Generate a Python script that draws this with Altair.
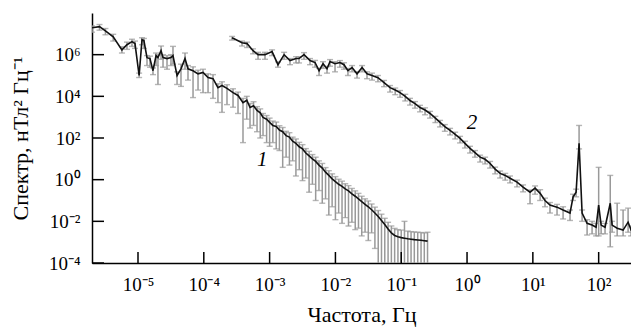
import altair as alt
import pandas as pd

# Curve 1: frequency (Hz), spectrum, lower and upper error
c1_freq = [2.0e-6, 2.6e-6, 3.2e-6, 4.2e-6, 5.7e-6, 6.8e-6, 8.1e-6, 9.0e-6, 1.04e-5, 1.15e-5,
           1.23e-5, 1.37e-5, 1.52e-5, 1.69e-5, 1.88e-5, 2.01e-5, 2.24e-5, 2.40e-5, 2.76e-5, 3.17e-5,
           3.40e-5, 3.92e-5, 4.50e-5, 5.18e-5, 5.75e-5, 6.86e-5, 8.17e-5, 9.73e-5, 1.16e-4, 1.38e-4,
           1.64e-4, 1.89e-4, 2.25e-4, 2.78e-4, 3.31e-4, 3.94e-4, 4.5e-4, 5.04e-4, 5.7e-4, 6.44e-4,
           7.2e-4, 7.94e-4, 9.0e-4,
           1.00e-3, 1.12e-3, 1.26e-3, 1.41e-3, 1.58e-3, 1.78e-3, 2.00e-3, 2.24e-3, 2.51e-3, 2.82e-3,
           3.16e-3, 3.55e-3, 3.98e-3, 4.47e-3, 5.01e-3, 5.62e-3, 6.31e-3, 7.08e-3, 7.94e-3, 8.91e-3,
           1.00e-2, 1.12e-2, 1.26e-2, 1.41e-2, 1.58e-2, 1.78e-2, 2.00e-2, 2.24e-2, 2.51e-2, 2.82e-2,
           3.16e-2, 3.55e-2, 3.98e-2, 4.47e-2, 5.01e-2, 5.62e-2, 6.31e-2, 7.08e-2, 7.94e-2, 8.91e-2,
           0.100, 0.112, 0.126, 0.141, 0.158, 0.178, 0.200, 0.224, 0.251]
c1_spec = [1.95e7, 2.2e7, 1.4e7, 7.2e6, 1.7e6, 3.0e6, 4.2e6, 3.4e6, 1.0e5, 5.2e6,
           4.7e6, 7.2e5, 6.5e5, 1.7e5, 9.0e5, 7.2e5, 1.55e6, 7.2e5, 6.5e5, 7.2e5,
           9.0e5, 1.0e5, 2.1e5, 6.5e5, 2.1e5, 1.7e5, 1.2e5, 1.4e5, 7.9e4, 7.1e4,
           2.6e4, 3.3e4, 2.4e4, 1.5e4, 1.1e4, 5.0e3, 6.5e3, 2.9e3, 3.5e3, 2.1e3,
           1.6e3, 9.7e2, 8.0e2,
           5.6e2, 4.0e2, 3.6e2, 2.4e2, 2.0e2, 1.3e2, 1.1e2, 70, 55, 38,
           30, 19, 14, 10, 7.5, 5.0, 3.6, 2.3, 1.6, 1.1,
           0.8, 0.6, 0.48, 0.36, 0.29, 0.21, 0.16, 0.12, 0.088, 0.066,
           0.05, 0.036, 0.025, 0.017, 0.011, 7e-3, 4.3e-3, 2.8e-3, 2.1e-3, 1.8e-3,
           1.65e-3, 1.55e-3, 1.45e-3, 1.38e-3, 1.32e-3, 1.28e-3, 1.24e-3, 1.18e-3, 1.12e-3]
c1_lo = [1.2e7, 1.5e7, 9e6, 4.5e6, 1.2e6, 1.8e6, 2.5e6, 2.0e6, 8e4, 3.0e6,
         2.0e6, 3.0e5, 2.5e5, 1.1e5, 3.0e5, 3.7e4, 6.0e5, 2.5e5, 2.0e5, 3.0e5,
         3.5e5, 3.7e4, 3.0e4, 2.0e5, 6.0e4, 8.7e3, 2.0e4, 1.5e4, 1.5e4, 8.0e3,
         5.0e3, 1.7e3, 4.0e3, 3.0e3, 1.5e3, 60, 8e2, 3.0e2, 4e2, 2.0e2,
         1.0e2, 1.3e2, 60,
         40, 60, 30, 25, 3.9, 12, 5, 8, 1.5, 3,
         0.9, 1.2, 0.25, 0.6, 0.1, 0.3, 0.074, 0.12, 0.02, 0.05,
         0.012, 0.025, 0.008, 0.015, 0.006, 9e-3, 0.004, 4.7e-3, 0.002, 0.003,
         1.2e-3, 2.8e-3, 5e-4, 5e-5, 5e-5, 5e-5, 5e-5, 5e-5, 5e-5, 5e-5,
         5e-5, 5e-5, 5e-5, 5e-5, 5e-5, 5e-5, 5e-5, 5e-5, 5e-5]
c1_hi = [2.4e7, 2.8e7, 1.8e7, 9.5e6, 2.4e6, 4.0e6, 5.5e6, 4.5e6, 1.3e5, 6.5e6,
         6.0e6, 9.0e5, 8.5e5, 2.3e5, 1.2e6, 1.0e6, 2.6e6, 1.0e6, 9.0e5, 1.0e6,
         2.5e6, 1.5e5, 3.5e5, 1.2e6, 3.0e5, 2.6e5, 1.8e5, 2.0e5, 1.2e5, 1.1e5,
         4.0e4, 5.0e4, 3.6e4, 2.3e4, 1.6e4, 8.0e3, 1.0e4, 4.5e3, 5.5e3, 3.2e3,
         2.5e3, 1.5e3, 1.2e3,
         9e2, 6.5e2, 5.8e2, 3.9e2, 3.2e2, 2.1e2, 1.8e2, 1.1e2, 90, 62,
         48, 31, 23, 16, 12, 8, 6, 3.8, 2.7, 1.9,
         1.4, 1.05, 0.85, 0.64, 0.52, 0.38, 0.29, 0.22, 0.16, 0.12,
         0.095, 0.068, 0.048, 0.033, 0.022, 0.014, 9e-3, 6e-3, 4.6e-3, 4e-3,
         3.8e-3, 0.01, 3.4e-3, 3.2e-3, 3.1e-3, 3.0e-3, 2.9e-3, 2.8e-3, 3.0e-3]

# Curve 2
c2_freq = [2.69e-4, 3.81e-4, 4.54e-4, 5.6e-4, 6.67e-4, 8.51e-4, 1.09e-3, 1.34e-3, 1.66e-3, 2.04e-3,
           2.52e-3, 2.80e-3, 3.33e-3, 4.11e-3, 4.90e-3, 5.64e-3, 6.48e-3, 7.45e-3, 8.28e-3, 9.86e-3,
           1.17e-2, 1.35e-2, 1.55e-2, 1.79e-2, 2.13e-2, 2.54e-2, 3.02e-2, 3.60e-2, 4.43e-2, 5.48e-2,
           6.76e-2, 8.1e-2, 9.59e-2, 0.115, 0.136, 0.162, 0.193, 0.23, 0.274, 0.33,
           0.389, 0.46, 0.552, 0.66, 0.783, 0.93, 1.11, 1.32, 1.58, 1.88,
           2.24, 2.67, 3.18, 3.8, 4.50, 5.75, 7.10, 9.06, 10.8, 12.9,
           15.3, 18.2, 23.3, 28.8, 36.7, 40.8, 45.4, 50.4, 56.0, 66.7,
           79.4, 91.3, 100, 109, 125, 150, 160, 191, 235, 280,
           311, 397]
c2_spec = [6.5e6, 3.7e6, 3.4e6, 1.55e6, 1.0e6, 1.0e6, 1.4e6, 3.3e5, 1.0e6, 5.2e5,
           6.5e5, 6.5e5, 1.0e6, 5.2e5, 4.2e5, 1.7e5, 3.7e5, 2.1e5, 4.7e5, 3.7e5,
           4.2e5, 3.3e5, 1.7e5, 2.4e5, 1.2e5, 2.4e5, 1.2e5, 1.0e5, 7.9e4, 4.6e4,
           2.6e4, 2.0e4, 1.5e4, 1.0e4, 6.3e3, 4.5e3, 2.9e3, 2.2e3, 1.5e3, 9e2,
           5.6e2, 3.5e2, 2.3e2, 1.5e2, 96, 55, 32, 20, 12, 9.5,
           6.0, 3.2, 2.0, 1.6, 1.17, 0.76, 0.44, 0.25, 0.39, 0.22,
           0.10, 0.060, 0.048, 0.035, 0.025, 0.145, 0.25, 55, 0.025, 8.1e-3,
           6.6e-3, 5.2e-3, 0.06, 6.6e-3, 5.2e-3, 0.074, 6.6e-3, 4.7e-3, 3.8e-3, 9.1e-3,
           3.8e-3, 4.7e-3]
c2_lo = [5e6, 2.6e6, 2.2e6, 1.1e6, 6e5, 6e5, 9e5, 2.5e5, 6e5, 3.3e5,
         4e5, 4e5, 6e5, 3.3e5, 2.5e5, 1.0e5, 2.2e5, 1.3e5, 2.8e5, 1.5e5,
         2.5e5, 2e5, 1.0e5, 1.5e5, 7.5e4, 1.5e5, 7e4, 6e4, 5e4, 2.9e4,
         1.6e4, 1.2e4, 9e3, 6e3, 3.8e3, 2.7e3, 1.8e3, 1.3e3, 9e2, 5.5e2,
         3.4e2, 2.1e2, 1.4e2, 90, 58, 33, 19, 12, 7, 5.7,
         3.6, 1.9, 1.2, 0.95, 0.7, 0.45, 0.26, 0.07, 0.2, 0.1,
         0.05, 0.025, 0.02, 0.013, 0.011, 0.1, 0.15, 30, 0.01, 2.2e-3,
         2.5e-3, 2e-3, 2e-3, 2.5e-3, 2.5e-3, 6e-4, 3e-3, 2e-3, 2e-3, 3e-3,
         2e-3, 2.5e-3]
c2_hi = [7.5e6, 4.5e6, 4e6, 1.9e6, 1.3e6, 1.3e6, 1.7e6, 4.5e5, 1.3e6, 6.5e5,
         8e5, 8e5, 1.25e6, 6.5e5, 5.3e5, 2.2e5, 4.6e5, 2.7e5, 5.8e5, 4.6e5,
         5.2e5, 4.1e5, 2.2e5, 3e5, 1.5e5, 3e5, 1.5e5, 1.3e5, 1.0e5, 5.8e4,
         3.3e4, 2.5e4, 1.9e4, 1.25e4, 8e3, 5.6e3, 3.7e3, 2.8e3, 1.9e3, 1.1e3,
         7e2, 4.4e2, 2.9e2, 1.9e2, 1.2e2, 70, 40, 25, 15, 12,
         7.5, 4, 2.6, 2.0, 1.5, 0.95, 0.56, 0.32, 0.5, 0.33,
         0.13, 0.08, 0.065, 0.05, 0.035, 0.2, 0.35, 400, 0.035, 0.012,
         0.01, 8e-3, 3.9, 0.01, 8e-3, 1.6, 0.01, 0.074, 0.035, 0.043,
         6e-3, 7e-3]

x_ticks = [1e-5, 1e-4, 1e-3, 1e-2, 1e-1, 1, 10, 100]
y_ticks = [1e-4, 1e-2, 1, 1e2, 1e4, 1e6]
curve_labels = ["1", "2"]
label_freq = [7.7e-4, 1.19]
label_spec = [8.5, 500]

sup = str.maketrans("-0123456789", "⁻⁰¹²³⁴⁵⁶⁷⁸⁹")
exps = list(range(-6, 9))
lab_arr = "[" + ",".join("'10" + str(e).translate(sup) + "'" for e in exps) + "]"
label_expr = lab_arr + "[round(log(datum.value)/LN10)+6]"

FONT = "Liberation Serif"
xs = alt.Scale(type="log", domain=[2e-6, 310], nice=False)
ys = alt.Scale(type="log", domain=[1e-4, 1e8], nice=False)
xaxis = alt.Axis(values=x_ticks, labelExpr=label_expr, title="Частота, Гц", grid=False,
                 tickSize=0, labelPadding=12, labelFontSize=19, titleFontSize=22,
                 titlePadding=10, domainWidth=1.5, labelFlush=False)
yaxis = alt.Axis(values=y_ticks, labelExpr=label_expr, title="Спектр, нТл² Гц⁻¹", grid=False,
                 tickSize=0, labelPadding=12, labelFontSize=19, titleFontSize=22,
                 titlePadding=16, domainWidth=1.5, labelFlush=False)

d1 = pd.DataFrame({"f": c1_freq, "s": c1_spec, "lo": c1_lo, "hi": c1_hi, "c": "1"})
d2 = pd.DataFrame({"f": c2_freq, "s": c2_spec, "lo": c2_lo, "hi": c2_hi, "c": "2"})
d = pd.concat([d1, d2], ignore_index=True)

GRAY = "#999999"
base = alt.Chart(d)
bars = base.mark_rule(color=GRAY, strokeWidth=1.5, clip=True).encode(
    x=alt.X("f:Q", scale=xs, axis=xaxis), y=alt.Y("lo:Q", scale=ys, axis=yaxis), y2="hi:Q")
cap_lo = base.mark_tick(color=GRAY, orient="horizontal", size=6, thickness=1.4, clip=True).encode(
    x=alt.X("f:Q", scale=xs, axis=xaxis), y=alt.Y("lo:Q", scale=ys, axis=yaxis))
cap_hi = base.mark_tick(color=GRAY, orient="horizontal", size=6, thickness=1.4, clip=True).encode(
    x=alt.X("f:Q", scale=xs, axis=xaxis), y=alt.Y("hi:Q", scale=ys, axis=yaxis))
lines = base.mark_line(color="#111111", strokeWidth=1.6, clip=True).encode(
    x=alt.X("f:Q", scale=xs, axis=xaxis), y=alt.Y("s:Q", scale=ys, axis=yaxis), detail="c:N")

xt = alt.Chart(pd.DataFrame({"v": x_ticks})).mark_rule(color="black", strokeWidth=1.5).encode(
    x=alt.X("v:Q", scale=xs, axis=xaxis), y=alt.value(250), y2=alt.value(239))
yt = alt.Chart(pd.DataFrame({"v": y_ticks})).mark_rule(color="black", strokeWidth=1.5).encode(
    y=alt.Y("v:Q", scale=ys, axis=yaxis), x=alt.value(0), x2=alt.value(12))

lbl = alt.Chart(pd.DataFrame({"t": curve_labels, "f": label_freq, "s": label_spec})).mark_text(
    font=FONT, fontSize=21, fontStyle="italic", color="black").encode(
    x=alt.X("f:Q", scale=xs, axis=xaxis), y=alt.Y("s:Q", scale=ys, axis=yaxis), text="t:N")

chart = alt.layer(bars, cap_lo, cap_hi, lines, xt, yt, lbl).properties(
    width=539, height=250,
    autosize=alt.AutoSizeParams(type="none"),
    padding={"left": 84, "top": 5, "right": 0, "bottom": 64},
).configure_view(stroke=None).configure_axis(
    labelFont=FONT, titleFont=FONT, titleFontWeight="normal", labelColor="black",
    titleColor="black", domainColor="black"
)

chart.save("out.html", embed_options={"renderer": "svg", "actions": False})
